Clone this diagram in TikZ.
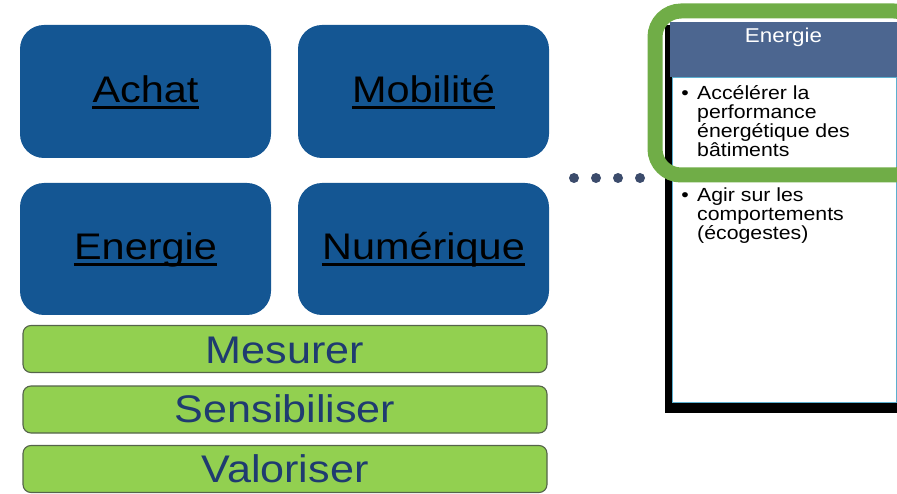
\documentclass[tikz,border=0pt]{standalone}
\usepackage{fontspec}
\setmainfont{Liberation Sans}[FakeStretch=1.12]

\definecolor{boxblue}{HTML}{145693}
\definecolor{barfill}{HTML}{92D050}
\definecolor{barline}{HTML}{55644A}
\definecolor{bartext}{HTML}{1F3B70}
\definecolor{headblue}{HTML}{4C6690}
\definecolor{ringgreen}{HTML}{70AD47}
\definecolor{dotblue}{HTML}{3C4C6C}
\definecolor{bodyline}{HTML}{5BB0D0}

\tikzset{
  theme/.style={rectangle, rounded corners=24pt, fill=boxblue,
    minimum width=251pt, minimum height=133pt, inner sep=0pt},
  themetext/.style={anchor=base, inner sep=0pt, text=black,
    font=\fontsize{37}{40}\selectfont},
  uline/.style={black, line width=2.6pt},
  bar/.style={rectangle, rounded corners=8pt, fill=barfill, draw=barline,
    line width=1.1pt, minimum width=524pt, minimum height=47pt, inner sep=0pt},
  bartxt/.style={anchor=base, inner sep=0pt, text=bartext,
    font=\fontsize{38.5}{40}\selectfont},
  bullettxt/.style={anchor=base west, inner sep=0pt, align=left,
    font=\fontsize{19}{19}\selectfont},
  bulletmark/.style={anchor=base, inner sep=0pt,
    font=\fontsize{19}{19}\selectfont},
  dot/.style={circle, fill=dotblue, minimum size=10pt, inner sep=0pt},
}

\begin{document}
\begin{tikzpicture}[x=1pt,y=-1pt]
\useasboundingbox (0,0) rectangle (897,494);

% theme tiles
\node[theme] (achat) at (145.5,91.5) {};
\node[theme] (mobil) at (423.5,91.5) {};
\node[theme, minimum height=132pt] (energ) at (145.5,249) {};
\node[theme, minimum height=132pt] (numer) at (423.5,249) {};

\node[themetext] (achatT) at (145.5,103) {Achat};
\node[themetext] (mobilT) at (423.5,103) {Mobilité};
\node[themetext] (energT) at (145.5,260) {Energie};
\node[themetext] (numerT) at (423.5,260) {Numérique};
\foreach \t in {achatT,mobilT,energT,numerT}
  \draw[uline] ([yshift=-4.5pt]\t.base west) -- ([yshift=-4.5pt]\t.base east);

% cross-cutting actions
\node[bar] (mes) at (285,349) {};
\node[bar] (sen) at (285,409.5) {};
\node[bar] (val) at (285,469) {};
\node[bartxt] at (285,363) {Mesurer};
\node[bartxt] at (285,422) {Sensibiliser};
\node[bartxt] at (285,482) {Valoriser};

% detail card
\fill[black] (665,25) rectangle (897,413);
\fill[headblue] (670,22) rectangle (897,77);
\draw[bodyline, fill=white, line width=0.9pt] (672,77) rectangle (896,402);
\node[anchor=base, inner sep=0pt, text=white, font=\fontsize{20}{20}\selectfont]
  (head) at (783.5,43) {Energie};

% bullet lists (the base anchor of a multi-line node sits on its last line)
\node[bulletmark] (m1) at (685,100) {•};
\node[bullettxt] (t1) at (697,157) {Accélérer la\\performance\\énergétique des\\bâtiments};
\node[bulletmark] (m2) at (685,202) {•};
\node[bullettxt] (t2) at (697,240) {Agir sur les\\comportements\\(écogestes)};

% highlight ring
\draw[ringgreen, line width=15pt, rounded corners=26pt] (655,11) rectangle (920,175);

% ellipsis dots
\foreach \x/\n in {574/d1,596/d2,618/d3,640/d4}
  \node[dot] (\n) at (\x,178) {};
\end{tikzpicture}
\end{document}
